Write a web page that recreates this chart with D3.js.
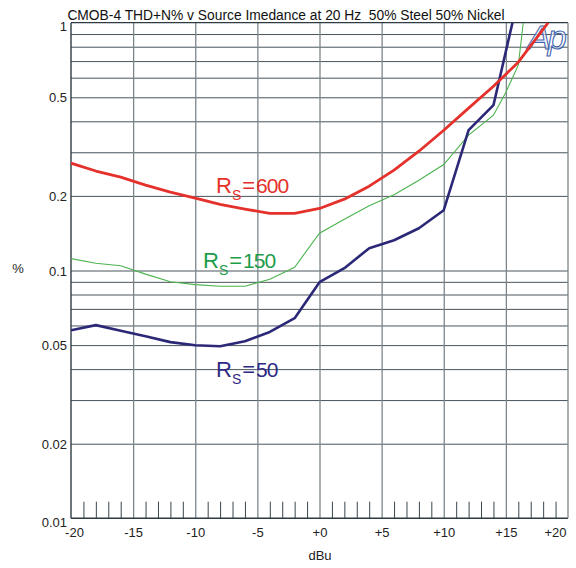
<!DOCTYPE html>
<html>
<head>
<meta charset="utf-8">
<script src="https://cdn.jsdelivr.net/npm/d3@7"></script>
<style>
  html, body { margin: 0; padding: 0; background: #ffffff; }
  svg { display: block; }
  text { font-family: "Liberation Sans", Arial, sans-serif; }
  .title { white-space: pre; }
</style>
</head>
<body>
<svg id="chart" width="576" height="568"></svg>
<script>
// Drive level in dBu (x) for each source-impedance series
const levels600 = [-20, -18, -16, -14, -12, -10, -8, -6, -4, -2, 0, 2, 4, 6, 8, 10, 12, 14, 16, 18.4];
const thd600    = [0.271, 0.252, 0.238, 0.221, 0.207, 0.196, 0.185, 0.177, 0.170, 0.170, 0.178, 0.194, 0.219, 0.254, 0.303, 0.368, 0.452, 0.554, 0.693, 1.0];

const levels150 = [-20, -18, -16, -14, -12, -10, -8, -6, -4, -2, 0, 2, 4, 6, 8, 10, 12, 14, 15, 16, 16.4];
const thd150    = [0.1117, 0.1070, 0.1045, 0.0967, 0.0901, 0.0877, 0.0864, 0.0864, 0.0922, 0.1031, 0.1414, 0.161, 0.1826, 0.2022, 0.2314, 0.2678, 0.3516, 0.4233, 0.5243, 0.6737, 1.0];

const levels50  = [-20, -18, -16, -14, -12, -10, -8, -6, -4, -2, 0, 2, 4, 6, 8, 10, 12, 14, 15.53];
const thd50     = [0.0574, 0.0602, 0.0571, 0.0543, 0.0514, 0.0499, 0.0495, 0.0518, 0.0565, 0.0642, 0.0897, 0.1022, 0.1230, 0.1325, 0.1481, 0.1751, 0.3683, 0.4646, 1.0];

// Axis ticks and grid
const yTickLabels = [1, 0.5, 0.2, 0.1, 0.05, 0.02, 0.01];
const yGridValues = [0.9, 0.8, 0.7, 0.6, 0.5, 0.4, 0.3, 0.2, 0.1, 0.09, 0.08, 0.07, 0.06, 0.05, 0.04, 0.03, 0.02];
const xTickLabels = [-20, -15, -10, -5, 0, 5, 10, 15, 20];
const xGridValues = [-15, -10, -5, 0, 5, 10, 15];
const xMinorTicks = d3.range(-19, 20).filter(d => d % 5 !== 0);

const titleText = "CMOB-4 THD+N% v Source Imedance at 20 Hz  50% Steel 50% Nickel";

const plotLeft = 71, plotRight = 568, plotTop = 22.7, plotBottom = 518.3;

const svg = d3.select("#chart");
const x = d3.scaleLinear().domain([-20, 20]).range([plotLeft, plotRight]);
const y = d3.scaleLog().domain([0.01, 1]).range([plotBottom, plotTop]);

svg.append("defs").append("clipPath").attr("id", "plotClip")
  .append("rect").attr("x", plotLeft).attr("y", plotTop)
  .attr("width", plotRight - plotLeft).attr("height", plotBottom - plotTop);

// horizontal grid
svg.append("g")
  .attr("transform", `translate(${plotLeft},0)`)
  .call(d3.axisLeft(y).tickValues(yGridValues).tickSize(-(plotRight - plotLeft)).tickFormat(""))
  .call(g => g.select(".domain").remove())
  .call(g => g.selectAll("line").attr("stroke", "#48545b").attr("stroke-width", 1));

// vertical grid
svg.append("g")
  .attr("transform", `translate(0,${plotBottom})`)
  .call(d3.axisBottom(x).tickValues(xGridValues).tickSize(-(plotBottom - plotTop)).tickFormat(""))
  .call(g => g.select(".domain").remove())
  .call(g => g.selectAll("line").attr("stroke", "#7c868c").attr("stroke-width", 1.3));

// minor dBu ticks along the bottom
svg.append("g")
  .attr("transform", `translate(0,${plotBottom})`)
  .call(d3.axisBottom(x).tickValues(xMinorTicks).tickSize(-16.6).tickFormat(""))
  .call(g => g.select(".domain").remove())
  .call(g => g.selectAll("line").attr("stroke", "#3a464d").attr("stroke-width", 1));

// frame
svg.append("line").attr("x1", plotLeft).attr("x2", plotRight).attr("y1", plotTop).attr("y2", plotTop)
  .attr("stroke", "#2f3b42").attr("stroke-width", 1.2);
svg.append("line").attr("x1", plotLeft).attr("x2", plotRight).attr("y1", plotBottom).attr("y2", plotBottom)
  .attr("stroke", "#2f3b42").attr("stroke-width", 1.4);
svg.append("line").attr("x1", plotLeft).attr("x2", plotLeft).attr("y1", plotTop).attr("y2", plotBottom)
  .attr("stroke", "#2f3b42").attr("stroke-width", 1.4);
svg.append("line").attr("x1", plotRight).attr("x2", plotRight).attr("y1", plotTop).attr("y2", plotBottom)
  .attr("stroke", "#7c868c").attr("stroke-width", 1.3);

// Ap logo
svg.append("text")
  .attr("x", 528).attr("y", 49)
  .attr("font-family", "DejaVu Sans, sans-serif")
  .attr("font-style", "italic")
  .attr("font-size", 34)
  .attr("letter-spacing", -3)
  .attr("fill", "#ffffff")
  .attr("fill-opacity", 0.6)
  .attr("stroke", "#3f63ad")
  .attr("stroke-width", 1.1)
  .text("Ap");

// y axis labels
svg.append("g")
  .attr("transform", `translate(${plotLeft},0)`)
  .call(d3.axisLeft(y).tickValues(yTickLabels).tickSize(0).tickPadding(4).tickFormat(d => String(d)))
  .call(g => g.select(".domain").remove())
  .call(g => g.selectAll("text")
    .attr("font-family", "Liberation Sans, Arial, sans-serif")
    .attr("font-size", 13).attr("fill", "#222")
    .attr("dy", d => (d === 1 || d === 0.01) ? "0.6em" : "0.36em"));

// x axis labels
svg.append("g")
  .attr("transform", `translate(0,${plotBottom})`)
  .call(d3.axisBottom(x).tickValues(xTickLabels).tickSize(0).tickPadding(9)
    .tickFormat(d => d >= 0 ? "+" + d : String(d)))
  .call(g => g.select(".domain").remove())
  .call(g => g.selectAll("text")
    .attr("font-family", "Liberation Sans, Arial, sans-serif")
    .attr("font-size", 13).attr("fill", "#222")
    .attr("dx", d => d === -20 ? 3 : d === 20 ? -13 : 0));

svg.append("text").attr("x", 320).attr("y", 560).attr("text-anchor", "middle")
  .attr("font-size", 13).attr("fill", "#222").text("dBu");
svg.append("text").attr("x", 18).attr("y", 273).attr("text-anchor", "middle")
  .attr("font-size", 13).attr("fill", "#222").text("%");

svg.append("text").attr("class", "title")
  .attr("x", 286).attr("y", 19.5).attr("text-anchor", "middle")
  .attr("font-size", 13.8).attr("fill", "#111").text(titleText);

// series
const line = d3.line().x(d => x(d[0])).y(d => y(d[1]));
const plot = svg.append("g").attr("clip-path", "url(#plotClip)");

plot.append("path").datum(d3.zip(levels150, thd150))
  .attr("d", line).attr("fill", "none").attr("stroke", "#4cb34f").attr("stroke-width", 1.1);
plot.append("path").datum(d3.zip(levels50, thd50))
  .attr("d", line).attr("fill", "none").attr("stroke", "#2c2878").attr("stroke-width", 2.6)
  .attr("stroke-linejoin", "round");
plot.append("path").datum(d3.zip(levels600, thd600))
  .attr("d", line).attr("fill", "none").attr("stroke", "#e5312b").attr("stroke-width", 2.8)
  .attr("stroke-linejoin", "round");

// series labels: R with subscript S
function seriesLabel(px, py, value, color) {
  const t = svg.append("text").attr("x", px).attr("y", py)
    .attr("font-family", "'DejaVu Sans ExtraLight', 'DejaVu Sans', sans-serif")
    .attr("font-weight", 200)
    .attr("fill", color);
  t.append("tspan").attr("font-size", 22).text("R");
  t.append("tspan").attr("font-size", 14).attr("dy", 7).text("S");
  t.append("tspan").attr("font-size", 22).attr("dy", -7).attr("dx", 1).text("=");
  t.append("tspan").attr("font-size", 21).attr("dx", 1).attr("letter-spacing", -1).text(value);
}
seriesLabel(216, 192.7, "600", "#e5312b");
seriesLabel(203, 268.3, "150", "#1e9c48");
seriesLabel(216, 376.7, "50", "#2e2a84");
</script>
</body>
</html>
